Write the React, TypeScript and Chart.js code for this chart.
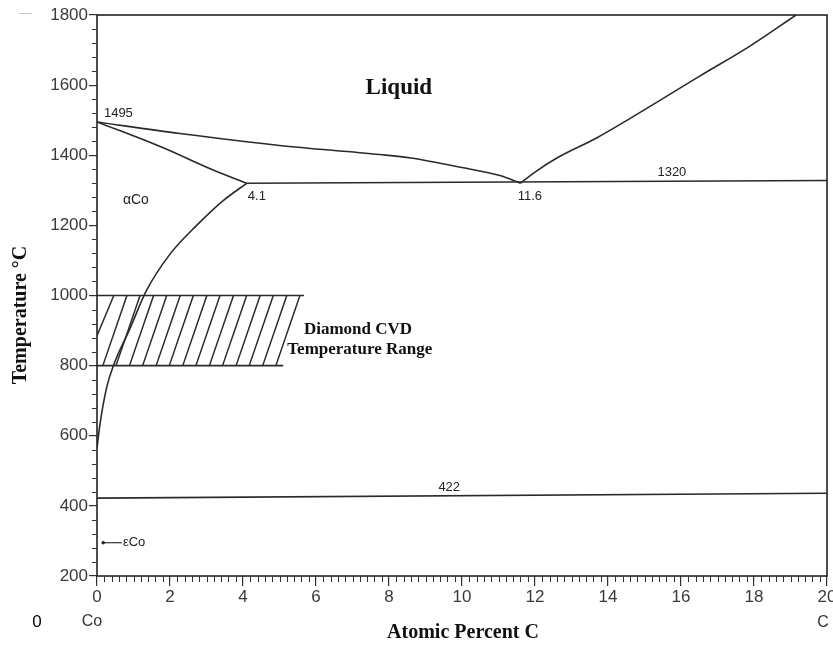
import React, { useEffect, useRef } from 'react';
import { Chart, registerables } from 'chart.js';

Chart.register(...registerables);

// ---- data (Atomic Percent C, Temperature °C) ----
const X_MIN = 0;
const X_MAX = 20;
const X_STEP = 2;
const Y_MIN = 200;
const Y_MAX = 1800;
const Y_STEP = 200;

const liquidusLeftC = [0, 2.27, 5.0, 7.75, 8.6, 10.0, 11.04, 11.6];
const liquidusLeftT = [1495, 1462, 1428, 1402, 1392, 1365, 1342, 1320];

const liquidusRightC = [11.6, 12.0, 12.6, 13.7, 15.4, 16.5, 17.9, 19.15];
const liquidusRightT = [1320, 1352, 1392, 1450, 1555, 1625, 1712, 1800];

const solidusC = [0, 1.75, 3.2, 4.1];
const solidusT = [1495, 1424, 1357, 1320];

const solvusC = [4.1, 3.45, 2.73, 2.0, 1.36, 0.9, 0.45, 0.27, 0.08, 0];
const solvusT = [1320, 1270, 1200, 1118, 1015, 905, 800, 740, 632, 565];

const eutecticC = [4.1, 20];
const eutecticT = [1320, 1328];

const eutectoidC = [0, 20];
const eutectoidT = [422, 436];

const cvdTopC = [0, 5.67];
const cvdTopT = [1000, 1000];
const cvdBottomC = [0, 5.1];
const cvdBottomT = [800, 800];

// hatch strokes of the CVD band: start (bottom) and end (top)
const hatchStartC = [0, 0.16, 0.52, 0.89, 1.25, 1.62, 1.98, 2.35, 2.71, 3.08, 3.44, 3.81, 4.17, 4.54, 4.9];
const hatchStartT = [885, 800, 800, 800, 800, 800, 800, 800, 800, 800, 800, 800, 800, 800, 800];
const hatchEndC = [0.46, 0.82, 1.18, 1.55, 1.91, 2.28, 2.64, 3.01, 3.37, 3.74, 4.1, 4.47, 4.83, 5.2, 5.56];
const hatchEndT = [1000, 1000, 1000, 1000, 1000, 1000, 1000, 1000, 1000, 1000, 1000, 1000, 1000, 1000, 1000];

const LINE = '#2a2a2a';
const SANS = "'Liberation Sans', Arial, sans-serif";
const SERIF = "'Liberation Serif', 'Times New Roman', serif";

function pts(cs: number[], ts: number[]) {
  return cs.map((c, i) => ({ x: c, y: ts[i] }));
}

function lineSet(cs: number[], ts: number[], smooth = false, width = 1.6) {
  return {
    data: pts(cs, ts),
    borderColor: LINE,
    borderWidth: width,
    pointRadius: 0,
    fill: false,
    tension: smooth ? 0.4 : 0,
    cubicInterpolationMode: smooth ? 'monotone' : 'default',
  };
}

const overlayPlugin = {
  id: 'overlay',
  afterDraw(chart: any) {
    const { ctx, chartArea: a, scales } = chart;
    const x = scales.x;
    const y = scales.y;
    const px = (v: number) => x.getPixelForValue(v);
    const py = (v: number) => y.getPixelForValue(v);
    ctx.save();
    // frame
    ctx.strokeStyle = '#222';
    ctx.lineWidth = 1.6;
    ctx.strokeRect(a.left, a.top, a.right - a.left, a.bottom - a.top);

    // minor ticks
    ctx.lineWidth = 1;
    ctx.strokeStyle = '#333';
    ctx.beginPath();
    for (let i = 1; i < 100; i++) {
      if (i % 10 === 0) continue;
      const xx = Math.round(px(i * 0.2)) + 0.5;
      ctx.moveTo(xx, a.bottom);
      ctx.lineTo(xx, a.bottom + 6);
    }
    for (let v = Y_MIN + 40; v < Y_MAX; v += 40) {
      if ((v - Y_MIN) % 200 === 0) continue;
      const yy = Math.round(py(v)) + 0.5;
      ctx.moveTo(a.left - 5, yy);
      ctx.lineTo(a.left, yy);
    }
    ctx.stroke();

    // εCo leader
    ctx.fillStyle = '#222';
    ctx.beginPath();
    ctx.arc(px(0.17), py(295), 1.8, 0, Math.PI * 2);
    ctx.fill();
    ctx.beginPath();
    ctx.lineWidth = 1.2;
    ctx.moveTo(px(0.17), py(295));
    ctx.lineTo(px(0.68), py(295));
    ctx.stroke();

    const text = (s: string, cx: number, cy: number, font: string, color: string, align: CanvasTextAlign = 'center') => {
      ctx.font = font;
      ctx.fillStyle = color;
      ctx.textAlign = align;
      ctx.textBaseline = 'middle';
      ctx.fillText(s, cx, cy);
    };

    text('Liquid', px(8.27), py(1592), `bold 23px ${SERIF}`, '#111');
    text('1495', px(0.19), py(1495) - 9, `13px ${SANS}`, '#222', 'left');
    text('αCo', px(0.71), py(1271), `14px ${SANS}`, '#222', 'left');
    text('4.1', px(4.38), py(1320) + 13, `13px ${SANS}`, '#222');
    text('11.6', px(11.86), py(1320) + 13, `13px ${SANS}`, '#222');
    text('1320', px(15.75), py(1326) - 9, `13px ${SANS}`, '#222');
    text('422', px(9.65), py(429) - 8, `13px ${SANS}`, '#222');
    text('εCo', px(0.71), py(295), `13px ${SANS}`, '#222', 'left');
    text('Diamond CVD', px(7.15), py(902), `bold 17px ${SERIF}`, '#111');
    text('Temperature Range', px(7.2), py(845), `bold 17px ${SERIF}`, '#111');

    // bottom labels
    text('0', 37, 622, `17px ${SANS}`, '#000');
    text('Co', px(0) - 5, 622, `16px ${SANS}`, '#333');
    text('C', px(20) - 4, 623, `16px ${SANS}`, '#333');
    text('Atomic Percent C', 463, 633, `bold 20px ${SERIF}`, '#111');

    // y title
    ctx.save();
    ctx.translate(21, 315);
    ctx.rotate(-Math.PI / 2);
    text('Temperature °C', 0, 0, `bold 20px ${SERIF}`, '#111');
    ctx.restore();

    // faint scan mark top-left
    ctx.strokeStyle = '#c8c8c8';
    ctx.lineWidth = 1;
    ctx.beginPath();
    ctx.moveTo(19, 13.5);
    ctx.lineTo(32, 13.5);
    ctx.stroke();

    ctx.restore();
  },
};

export default function App() {
  const ref = useRef<HTMLCanvasElement | null>(null);

  useEffect(() => {
    const canvas = ref.current;
    if (!canvas) return;
    const datasets: any[] = [
      lineSet(liquidusLeftC, liquidusLeftT, true),
      lineSet(liquidusRightC, liquidusRightT, true),
      lineSet(solidusC, solidusT, true),
      lineSet(solvusC, solvusT, true),
      lineSet(eutecticC, eutecticT),
      lineSet(eutectoidC, eutectoidT),
      lineSet(cvdTopC, cvdTopT),
      lineSet(cvdBottomC, cvdBottomT),
    ];
    hatchStartC.forEach((c, i) => {
      datasets.push(lineSet([c, hatchEndC[i]], [hatchStartT[i], hatchEndT[i]], false, 1.5));
    });

    const chart = new Chart(canvas, {
      type: 'line',
      data: { datasets },
      options: {
        animation: false,
        responsive: false,
        devicePixelRatio: 1,
        events: [],
        layout: { padding: { left: 0, right: 6, top: 15, bottom: 0 } },
        plugins: { legend: { display: false }, tooltip: { enabled: false } },
        scales: {
          x: {
            type: 'linear',
            min: X_MIN,
            max: X_MAX,
            ticks: {
              stepSize: X_STEP,
              color: '#3a3a3a',
              font: { family: SANS, size: 17 },
              padding: 1,
              maxRotation: 0,
              autoSkip: false,
              callback: (v: any) => String(v),
            },
            grid: { drawOnChartArea: false, drawTicks: true, tickLength: 10, color: '#333', lineWidth: 1.2 },
            border: { display: false },
            afterFit: (s: any) => {
              s.height = 69;
              s.paddingLeft = 0;
              s.paddingRight = 0;
            },
          },
          y: {
            type: 'linear',
            min: Y_MIN,
            max: Y_MAX,
            ticks: {
              stepSize: Y_STEP,
              color: '#3a3a3a',
              font: { family: SANS, size: 17 },
              padding: 1,
              autoSkip: false,
              callback: (v: any) => String(v),
            },
            grid: { drawOnChartArea: false, drawTicks: true, tickLength: 8, color: '#333', lineWidth: 1.2 },
            border: { display: false },
            afterFit: (s: any) => {
              s.width = 97;
              s.paddingTop = 0;
              s.paddingBottom = 0;
            },
          },
        },
      },
      plugins: [overlayPlugin],
    } as any);
    return () => chart.destroy();
  }, []);

  return (
    <div style={{ position: 'absolute', left: 0, top: 0, width: 833, height: 645, background: '#fff' }}>
      <canvas ref={ref} width={833} height={645} style={{ width: 833, height: 645, display: 'block' }} />
    </div>
  );
}
